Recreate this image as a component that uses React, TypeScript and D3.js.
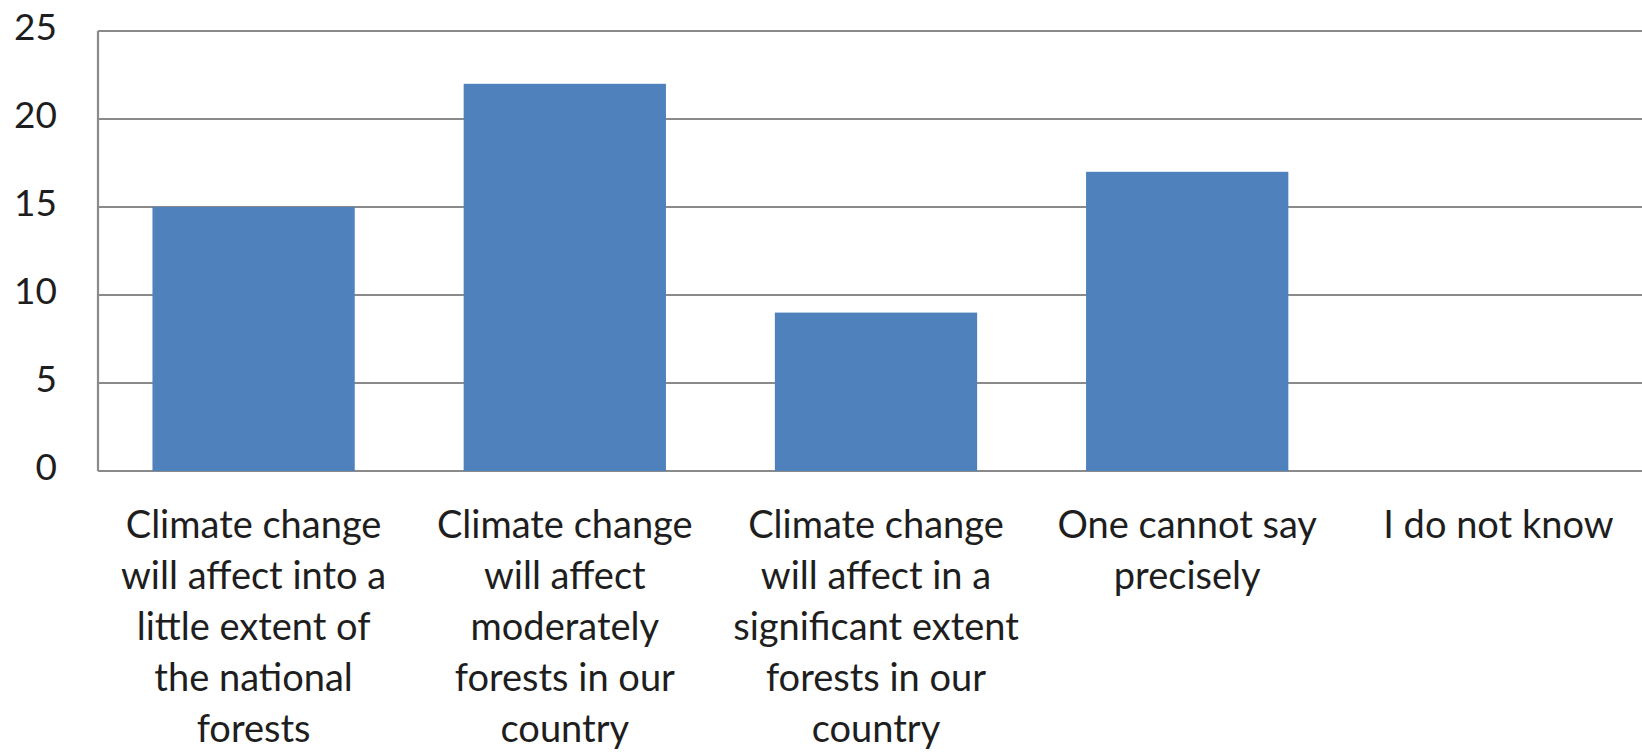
import React, { useEffect, useRef } from 'react';
import * as d3 from 'd3';

// chart data
const categories = [
  'little',
  'moderately',
  'significant',
  'cannot say',
  'do not know',
];
const categoryLines = [
  ['Climate change', 'will affect into a', 'little extent  of', 'the national', 'forests'],
  ['Climate change', 'will affect', 'moderately', 'forests in our', 'country'],
  ['Climate change', 'will affect in a', 'significant extent', 'forests in our', 'country'],
  ['One cannot say', 'precisely'],
  ['I do not know'],
];
const values = [15, 22, 9, 17, 0];
const yTicks = [0, 5, 10, 15, 20, 25];

const App = () => {
  const ref = useRef<SVGSVGElement>(null);

  useEffect(() => {
    if (!ref.current) return;
    const svg = d3.select(ref.current);
    svg.selectAll('*').remove();

    const width = 1642;
    const height = 752;
    const margin = { top: 31, right: -12, bottom: 281, left: 98 };
    const font = 'Lato, "Open Sans", sans-serif';

    const x = d3.scaleBand<string>()
      .domain(categories)
      .range([margin.left, width - margin.right])
      .padding(0);

    const y = d3.scaleLinear()
      .domain([0, 25])
      .range([height - margin.bottom, margin.top]);

    const barW = x.bandwidth() * 0.65;

    // gridlines
    svg.append('g')
      .selectAll('line')
      .data(yTicks)
      .join('line')
      .attr('x1', margin.left)
      .attr('x2', width)
      .attr('y1', d => y(d))
      .attr('y2', d => y(d))
      .attr('stroke', '#8a8a8a')
      .attr('stroke-width', 2.2);

    // bars
    svg.append('g')
      .selectAll('rect')
      .data(values)
      .join('rect')
      .attr('x', (d, i) => x(categories[i])! + (x.bandwidth() - barW) / 2)
      .attr('y', d => y(d))
      .attr('width', barW)
      .attr('height', d => y(0) - y(d))
      .attr('fill', '#4f81bd');

    // left axis line
    svg.append('line')
      .attr('x1', margin.left)
      .attr('x2', margin.left)
      .attr('y1', y(25))
      .attr('y2', y(0))
      .attr('stroke', '#8a8a8a')
      .attr('stroke-width', 2.2);

    // y labels
    svg.append('g')
      .selectAll('text')
      .data(yTicks)
      .join('text')
      .attr('x', 57)
      .attr('y', d => y(d) + 9)
      .attr('text-anchor', 'end')
      .attr('font-family', font)
      .attr('font-size', 37)
      .attr('fill', '#1e1e1e')
      .text(d => d);

    // x labels
    const lab = svg.append('g')
      .selectAll('text')
      .data(categoryLines)
      .join('text')
      .attr('text-anchor', 'middle')
      .attr('font-family', font)
      .attr('font-size', 38)
      .attr('fill', '#1e1e1e')
      .attr('transform', (d, i) => `translate(${x(categories[i])! + x.bandwidth() / 2},538)`);

    lab.selectAll('tspan')
      .data(d => d)
      .join('tspan')
      .attr('x', 0)
      .attr('y', (d, i) => i * 51)
      .text(d => d);
  }, []);

  return (
    <svg
      ref={ref}
      width={1642}
      height={752}
      style={{ position: 'absolute', left: 0, top: 0, background: '#fff' }}
    ></svg>
  );
};

export default App;
